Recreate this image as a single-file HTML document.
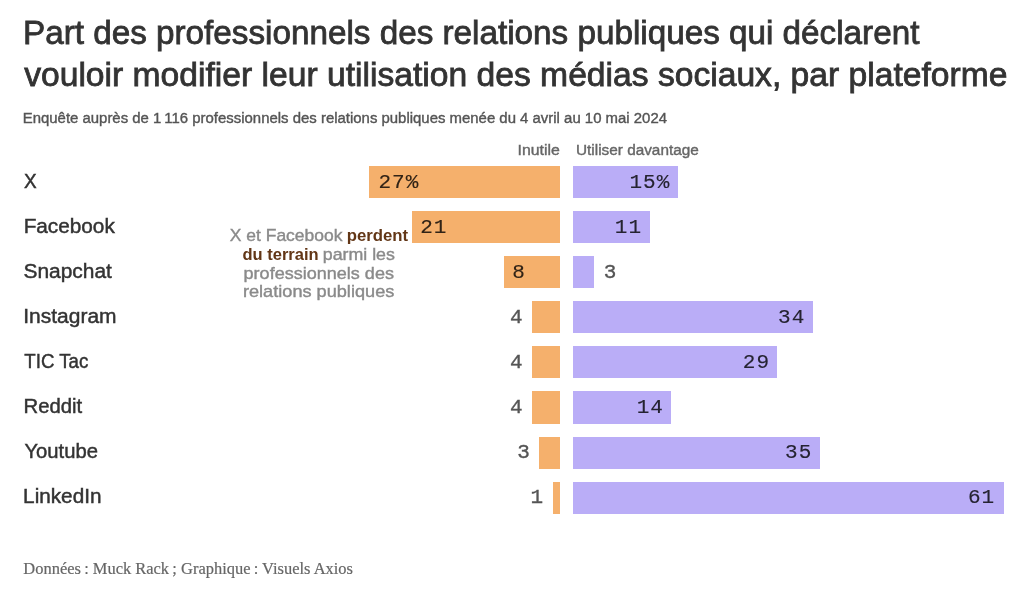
<!DOCTYPE html><html><head><meta charset="utf-8"><style>
html,body{margin:0;padding:0;background:#fff;width:1024px;height:592px;overflow:hidden;position:relative}
.t{position:absolute;white-space:pre;line-height:1;filter:saturate(1)}
.S{font-family:'Liberation Sans', sans-serif}
.m{font-family:'Liberation Mono', monospace}
.s{font-family:'Liberation Serif', serif}
.b{position:absolute}
.o{background:#f5b06c}
.p{background:#baadf7}
.st{-webkit-text-stroke:0.45px currentColor}
.ti{-webkit-text-stroke:0.8px currentColor}
.sm{-webkit-text-stroke:0.15px currentColor}
.so{-webkit-text-stroke:0.35px currentColor}
.sf{-webkit-text-stroke:0.2px currentColor}
.sa{-webkit-text-stroke:0.4px currentColor}
</style></head><body>
<div id="t1" class="t S ti" style="left:22px;padding-left:0.99px;padding-top:0.05px;top:16px;font-size:33px;color:#333;transform:scaleX(1.0075);transform-origin:left top;">Part des professionnels des relations publiques qui déclarent</div>
<div id="t2" class="t S ti" style="left:24px;padding-left:0.16px;padding-top:0.45px;top:58px;font-size:33px;color:#333;transform:scaleX(1.0192);transform-origin:left top;">vouloir modifier leur utilisation des médias sociaux, par plateforme</div>
<div id="sub" class="t S sa" style="left:22px;padding-left:0.75px;padding-top:0.07px;top:110px;font-size:15.5px;color:#555;transform:scaleX(0.9632);transform-origin:left top;">Enquête auprès de 1 116 professionnels des relations publiques menée du 4 avril au 10 mai 2024</div>
<div id="h1" class="t S sa" style="left:517px;padding-left:0.54px;padding-top:0.37px;top:142px;font-size:15.5px;color:#666;transform:scaleX(1.0232);transform-origin:left top;">Inutile</div>
<div id="h2" class="t S sa" style="left:575px;padding-left:1.00px;padding-top:0.37px;top:142px;font-size:15.5px;color:#666;transform:scaleX(0.9897);transform-origin:left top;">Utiliser davantage</div>
<div class="b o" style="left:369.23px;top:165.50px;width:190.80px;height:32.2px"></div>
<div class="b p" style="left:573.00px;top:165.50px;width:105.43px;height:32.2px"></div>
<div class="b o" style="left:411.63px;top:210.67px;width:148.40px;height:32.2px"></div>
<div class="b p" style="left:573.00px;top:210.67px;width:77.14px;height:32.2px"></div>
<div class="b o" style="left:503.50px;top:255.84px;width:56.53px;height:32.2px"></div>
<div class="b p" style="left:573.00px;top:255.84px;width:20.55px;height:32.2px"></div>
<div class="b o" style="left:531.76px;top:301.01px;width:28.27px;height:32.2px"></div>
<div class="b p" style="left:573.00px;top:301.01px;width:239.83px;height:32.2px"></div>
<div class="b o" style="left:531.76px;top:346.18px;width:28.27px;height:32.2px"></div>
<div class="b p" style="left:573.00px;top:346.18px;width:204.46px;height:32.2px"></div>
<div class="b o" style="left:531.76px;top:391.35px;width:28.27px;height:32.2px"></div>
<div class="b p" style="left:573.00px;top:391.35px;width:98.36px;height:32.2px"></div>
<div class="b o" style="left:538.83px;top:436.52px;width:21.20px;height:32.2px"></div>
<div class="b p" style="left:573.00px;top:436.52px;width:246.90px;height:32.2px"></div>
<div class="b o" style="left:552.96px;top:481.69px;width:7.07px;height:32.2px"></div>
<div class="b p" style="left:573.00px;top:481.69px;width:430.81px;height:32.2px"></div>
<div id="l0" class="t S st" style="left:24px;padding-left:0.01px;padding-top:0.86px;top:170px;font-size:20px;color:#333;transform:scaleX(0.9479);transform-origin:left top;">X</div>
<div id="n0" class="t m sm" style="left:378px;padding-left:0.48px;padding-top:0.71px;top:171px;font-size:21px;color:#312316;letter-spacing:1.0px;">27%</div>
<div id="p0" class="t m sm" style="right:353px;padding-right:0.68px;padding-top:0.71px;top:171px;font-size:21px;color:#252331;letter-spacing:1.0px;">15%</div>
<div id="l1" class="t S st" style="left:23px;padding-left:0.62px;padding-top:0.86px;top:215px;font-size:20px;color:#333;transform:scaleX(1.0379);transform-origin:left top;">Facebook</div>
<div id="n1" class="t m sm" style="left:420px;padding-left:0.27px;padding-top:0.81px;top:216px;font-size:21px;color:#312316;letter-spacing:1.0px;">21</div>
<div id="p1" class="t m sm" style="right:381px;padding-right:0.98px;padding-top:0.81px;top:216px;font-size:21px;color:#252331;letter-spacing:1.0px;">11</div>
<div id="l2" class="t S st" style="left:23px;padding-left:0.42px;padding-top:0.86px;top:260px;font-size:20px;color:#333;transform:scaleX(1.0464);transform-origin:left top;">Snapchat</div>
<div id="n2" class="t m sm" style="left:512px;padding-left:0.28px;padding-top:0.91px;top:261px;font-size:21px;color:#312316;letter-spacing:1.0px;">8</div>
<div id="p2" class="t m so" style="left:603px;padding-left:0.67px;padding-top:0.91px;top:261px;font-size:21px;color:#555;letter-spacing:1.0px;">3</div>
<div id="l3" class="t S st" style="left:23px;padding-left:0.28px;padding-top:0.86px;top:305px;font-size:20px;color:#333;transform:scaleX(1.0486);transform-origin:left top;">Instagram</div>
<div id="n3" class="t m so" style="right:500px;padding-right:0.47px;padding-top:0.01px;top:307px;font-size:21px;color:#555;letter-spacing:1.0px;">4</div>
<div id="p3" class="t m sm" style="right:218px;padding-right:0.74px;padding-top:0.01px;top:307px;font-size:21px;color:#252331;letter-spacing:1.0px;">34</div>
<div id="l4" class="t S st" style="left:24px;padding-left:0.32px;padding-top:0.86px;top:350px;font-size:20px;color:#333;transform:scaleX(0.9337);transform-origin:left top;">TIC Tac</div>
<div id="n4" class="t m so" style="right:500px;padding-right:0.47px;padding-top:0.11px;top:352px;font-size:21px;color:#555;letter-spacing:1.0px;">4</div>
<div id="p4" class="t m sm" style="right:253px;padding-right:0.94px;padding-top:0.11px;top:352px;font-size:21px;color:#252331;letter-spacing:1.0px;">29</div>
<div id="l5" class="t S st" style="left:23px;padding-left:0.53px;padding-top:0.86px;top:395px;font-size:20px;color:#333;transform:scaleX(1.0146);transform-origin:left top;">Reddit</div>
<div id="n5" class="t m so" style="right:500px;padding-right:0.47px;padding-top:0.21px;top:397px;font-size:21px;color:#555;letter-spacing:1.0px;">4</div>
<div id="p5" class="t m sm" style="right:360px;padding-right:0.04px;padding-top:0.21px;top:397px;font-size:21px;color:#252331;letter-spacing:1.0px;">14</div>
<div id="l6" class="t S st" style="left:24px;padding-left:0.44px;padding-top:0.86px;top:440px;font-size:20px;color:#333;transform:scaleX(1.0123);transform-origin:left top;">Youtube</div>
<div id="n6" class="t m so" style="right:493px;padding-right:0.15px;padding-top:0.31px;top:442px;font-size:21px;color:#555;letter-spacing:1.0px;">3</div>
<div id="p6" class="t m sm" style="right:211px;padding-right:0.74px;padding-top:0.31px;top:442px;font-size:21px;color:#252331;letter-spacing:1.0px;">35</div>
<div id="l7" class="t S st" style="left:23px;padding-left:0.10px;padding-top:0.86px;top:485px;font-size:20px;color:#333;transform:scaleX(1.0364);transform-origin:left top;">LinkedIn</div>
<div id="n7" class="t m so" style="right:479px;padding-right:0.88px;padding-top:0.41px;top:487px;font-size:21px;color:#555;letter-spacing:1.0px;">1</div>
<div id="p7" class="t m sm" style="right:28px;padding-right:0.79px;padding-top:0.41px;top:487px;font-size:21px;color:#252331;letter-spacing:1.0px;">61</div>
<div id="a1a" class="t S sa" style="left:229px;padding-left:0.78px;padding-top:0.80px;top:226px;font-size:17px;color:#8a8a8a;transform:scaleX(1.0276);transform-origin:left top;">X et Facebook</div>
<div id="a1b" class="t S " style="left:346px;padding-left:0.73px;padding-top:0.80px;top:226px;font-size:17px;color:#623616;font-weight:700;transform:scaleX(0.9849);transform-origin:left top;">perdent</div>
<div id="a2a" class="t S " style="left:242px;padding-left:0.56px;padding-top:0.80px;top:245px;font-size:17px;color:#623616;font-weight:700;transform:scaleX(0.9706);transform-origin:left top;">du terrain</div>
<div id="a2b" class="t S sa" style="left:322px;padding-left:0.74px;padding-top:0.80px;top:245px;font-size:17px;color:#8a8a8a;transform:scaleX(1.0460);transform-origin:left top;">parmi les</div>
<div id="a3" class="t S sa" style="left:243px;padding-left:0.54px;padding-top:0.60px;top:264px;font-size:17px;color:#8a8a8a;transform:scaleX(1.0609);transform-origin:left top;">professionnels des</div>
<div id="a4" class="t S sa" style="left:242px;padding-left:0.90px;padding-top:0.40px;top:283px;font-size:17px;color:#8a8a8a;transform:scaleX(1.0676);transform-origin:left top;">relations publiques</div>
<div id="foot" class="t s sf" style="left:23px;padding-left:0.35px;padding-top:0.96px;top:560px;font-size:16.3px;color:#666;transform:scaleX(1.0097);transform-origin:left top;">Données : Muck Rack ; Graphique : Visuels Axios</div>
</body></html>
